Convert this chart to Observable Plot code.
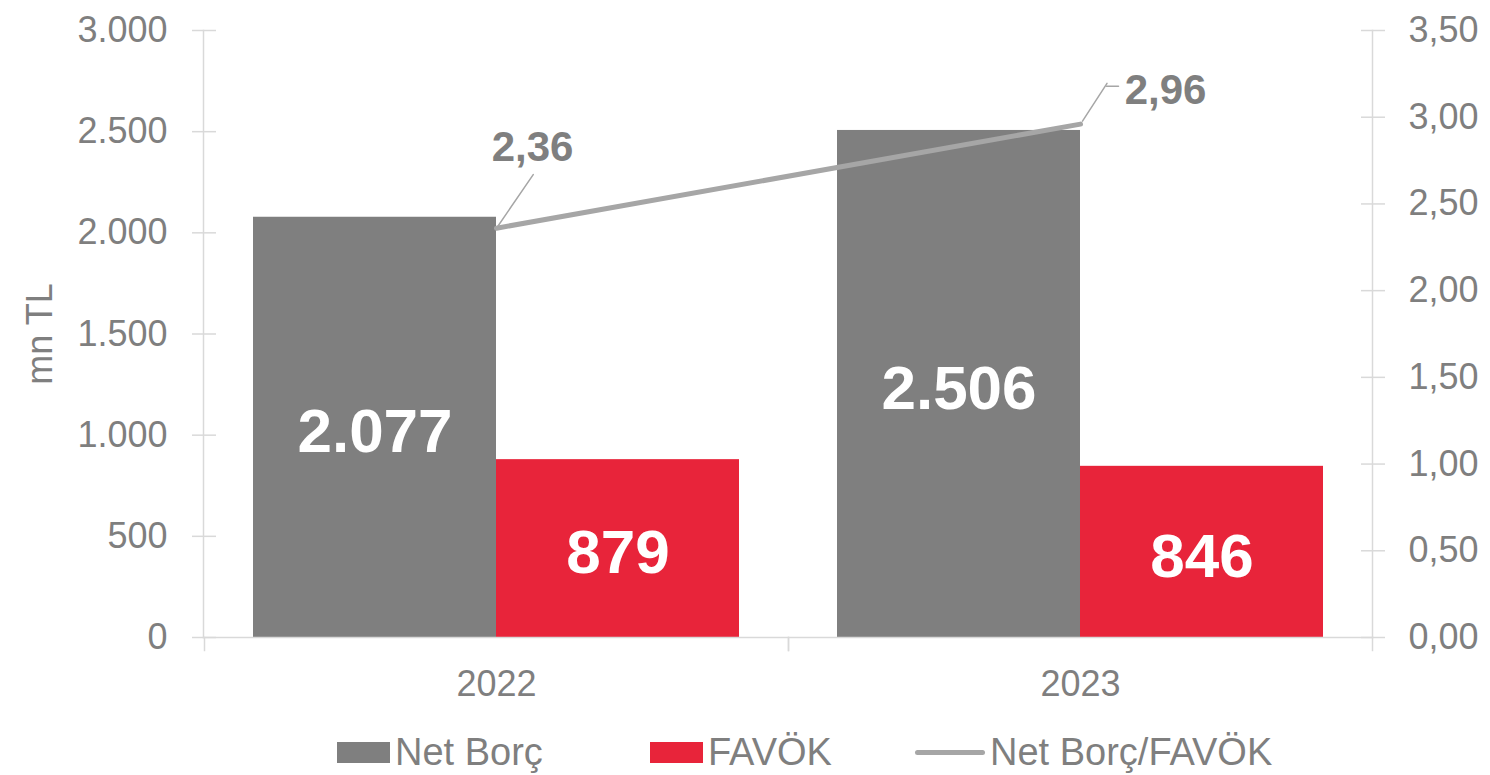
<!DOCTYPE html>
<html><head><meta charset="utf-8">
<script src="https://cdn.jsdelivr.net/npm/d3@7"></script>
<script src="https://cdn.jsdelivr.net/npm/@observablehq/plot@0.6"></script>
<style>
body{margin:0;background:#fff;}
#chart{position:relative;width:1490px;height:775px;font-family:"Liberation Sans",Arial,sans-serif;}
#chart svg{position:absolute;left:0;top:0;}
#legend{position:absolute;left:337px;top:731px;display:flex;align-items:center;font-size:38px;color:#7f7f7f;line-height:42px;}
.item{display:flex;align-items:center;}
.sw{display:inline-block;margin-right:5px;}
</style></head><body><div id="chart"></div>
<script>
const years = ["2022", "2023"];
const netBorc = [2077, 2506];
const favok = [879, 846];
const ratio = [2.36, 2.96];
const seriesNames = ["Net Borç", "FAVÖK", "Net Borç/FAVÖK"];
const leftTicks = [0, 500, 1000, 1500, 2000, 2500, 3000];
const rightTicks = [0, 0.5, 1, 1.5, 2, 2.5, 3, 3.5];
const yTitle = "mn TL";

const colors = ["#7f7f7f", "#e8243a", "#a6a6a6"];
const textGray = "#7f7f7f", axisGray = "#d9d9d9";
const font = "'Liberation Sans', Arial, sans-serif";
const W = 1490, H = 725;
const M = {marginTop: 30, marginRight: 118, marginBottom: 88, marginLeft: 203};

const loc = d3.formatLocale({decimal: ",", thousands: ".", grouping: [3], currency: ["", " TL"]});
const fmtInt = loc.format(",d");
const fmt2 = loc.format(",.2f");

const bars = years.flatMap((y, i) => [
  {year: y, series: seriesNames[0], value: netBorc[i]},
  {year: y, series: seriesNames[1], value: favok[i]}
]);
const lineData = years.map((y, i) => ({year: y, ratio: ratio[i]}));

const p1 = Plot.plot({
  width: W, height: H, ...M,
  style: {fontFamily: font, background: "transparent"},
  fx: {domain: years, padding: 0},
  x: {domain: seriesNames.slice(0, 2), paddingInner: 0, paddingOuter: 0.198, axis: null},
  y: {domain: [0, 3000]},
  color: {domain: seriesNames.slice(0, 2), range: colors.slice(0, 2)},
  marks: [
    Plot.barY(bars, {fx: "year", x: "series", y: "value", fill: "series"}),
    Plot.text(bars, {fx: "year", x: "series", y: d => d.value / 2, text: d => fmtInt(d.value),
      fill: "white", fontSize: 62, fontWeight: "bold", dy: 5}),
    Plot.axisY({ticks: leftTicks, tickSize: 24, dx: 12, stroke: axisGray, strokeWidth: 1.5, tickFormat: () => "", label: null}),
    Plot.axisY({ticks: leftTicks, tickSize: 0, tickPadding: 37, tickFormat: fmtInt, fill: textGray, fontSize: 36,
      label: yTitle, labelAnchor: "center", labelOffset: 178, labelArrow: "none"}),
    Plot.axisFx({anchor: "bottom", tickSize: 0, tickPadding: 33, fill: textGray, fontSize: 36, label: null}),
    Plot.frame({anchor: "left", insetTop: 607, insetBottom: -13, stroke: axisGray, strokeWidth: 1.5}),
    Plot.frame({anchor: "right", insetTop: 607, insetBottom: -13, stroke: axisGray, strokeWidth: 1.5})
  ]
});

const leader = {draw(ctx, l) { ctx.moveTo(0, 0); ctx.lineTo(0, -l); }};
const p2 = Plot.plot({
  width: W, height: H, ...M,
  style: {fontFamily: font, background: "transparent"},
  x: {type: "band", domain: years, padding: 0, axis: null},
  y: {domain: [0, 3.5]},
  marks: [
    Plot.frame({anchor: "left", stroke: axisGray, strokeWidth: 1.5}),
    Plot.frame({anchor: "right", stroke: axisGray, strokeWidth: 1.5}),
    Plot.frame({anchor: "bottom", stroke: axisGray, strokeWidth: 1.5}),
    Plot.axisY({anchor: "right", ticks: rightTicks, tickSize: 24, dx: -12, stroke: axisGray, strokeWidth: 1.5, tickFormat: () => "", label: null}),
    Plot.axisY({anchor: "right", ticks: rightTicks, tickSize: 0, tickPadding: 36, tickFormat: fmt2, fill: textGray, fontSize: 36, label: null}),
    Plot.line(lineData, {x: "year", y: "ratio", stroke: colors[2], strokeWidth: 5, strokeLinecap: "round"}),
    Plot.vector(lineData.slice(0, 1), {x: "year", y: "ratio", length: 65, rotate: 34.4, anchor: "start", shape: leader, stroke: colors[2], strokeWidth: 1.5}),
    Plot.vector(lineData.slice(1), {x: "year", y: "ratio", length: 45, rotate: 33, anchor: "start", dx: 2, dy: -3, shape: leader, stroke: colors[2], strokeWidth: 1.5}),
    Plot.vector(lineData.slice(1), {x: "year", y: "ratio", length: 12, rotate: 90, anchor: "start", dx: 26, dy: -38, shape: leader, stroke: colors[2], strokeWidth: 1.5}),
    Plot.text(lineData.slice(0, 1), {x: "year", y: "ratio", text: d => fmt2(d.ratio), dx: 36, dy: -81, fontSize: 42, fontWeight: "bold", fill: textGray}),
    Plot.text(lineData.slice(1), {x: "year", y: "ratio", text: d => fmt2(d.ratio), dx: 85, dy: -34, fontSize: 42, fontWeight: "bold", fill: textGray})
  ]
});

const chart = document.getElementById("chart");
chart.appendChild(p1);
chart.appendChild(p2);

const legend = document.createElement("div");
legend.id = "legend";
const widths = [313, 265, null];
seriesNames.forEach((name, i) => {
  const item = document.createElement("div");
  item.className = "item";
  if (widths[i]) item.style.width = widths[i] + "px";
  const sw = document.createElement("span");
  sw.className = "sw";
  if (i < 2) { sw.style.width = "53px"; sw.style.height = "21px"; }
  else { sw.style.width = "70px"; sw.style.height = "5px"; sw.style.borderRadius = "3px"; }
  sw.style.background = colors[i];
  const t = document.createElement("span");
  t.textContent = name;
  item.appendChild(sw); item.appendChild(t);
  legend.appendChild(item);
});
chart.appendChild(legend);
</script></body></html>
